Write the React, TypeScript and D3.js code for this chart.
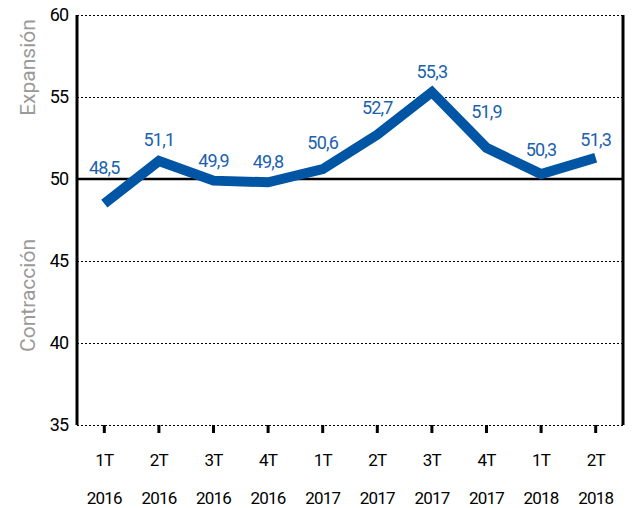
import React, { useEffect, useRef } from "react";
import * as d3 from "d3";

const quarters = ["1T", "2T", "3T", "4T", "1T", "2T", "3T", "4T", "1T", "2T"];
const years = ["2016", "2016", "2016", "2016", "2017", "2017", "2017", "2017", "2018", "2018"];
const values = [48.5, 51.1, 49.9, 49.8, 50.6, 52.7, 55.3, 51.9, 50.3, 51.3];
const yTicks = [35, 40, 45, 50, 55, 60];
// how far each value label sits above its point
const labelLift = [30, 15, 14, 14, 20, 21, 14, 30, 18, 12];

const W = 632;
const H = 508;
const FONT = "Roboto, 'Noto Sans', sans-serif";

const App = () => {
  const ref = useRef<SVGSVGElement>(null);

  useEffect(() => {
    const svg = d3.select(ref.current);
    svg.selectAll("*").remove();

    const left = 77, right = 623, top = 15, bottom = 425;
    const idx = values.map((_, i) => i);

    const x = d3.scaleBand<number>().domain(idx).range([left, right]);
    const cx = (i: number) => (x(i) as number) + x.bandwidth() / 2;
    const y = d3.scaleLinear().domain([35, 60]).range([bottom, top]);

    // grid
    svg.append("g")
      .selectAll("line")
      .data(yTicks.filter((t) => t !== 50))
      .join("line")
      .attr("x1", left)
      .attr("x2", right)
      .attr("y1", (d) => y(d) + 0.5)
      .attr("y2", (d) => y(d) + 0.5)
      .attr("stroke", "#000")
      .attr("stroke-width", 1.2)
      .attr("stroke-dasharray", "2,2");

    // 50 line
    svg.append("line")
      .attr("x1", left).attr("x2", right)
      .attr("y1", y(50)).attr("y2", y(50))
      .attr("stroke", "#000").attr("stroke-width", 2.5);

    // side axes
    [left, right].forEach((xx) => {
      svg.append("line")
        .attr("x1", xx).attr("x2", xx)
        .attr("y1", top).attr("y2", bottom)
        .attr("stroke", "#000").attr("stroke-width", 3);
    });

    // y tick labels
    svg.append("g")
      .selectAll("text")
      .data(yTicks)
      .join("text")
      .attr("x", 68)
      .attr("y", (d) => y(d))
      .attr("dy", "0.36em")
      .attr("text-anchor", "end")
      .attr("font-family", FONT)
      .attr("font-size", 18)
      .attr("letter-spacing", -1)
      .attr("fill", "#000")
      .text((d) => d);

    // x ticks
    svg.append("g")
      .selectAll("line")
      .data(idx)
      .join("line")
      .attr("x1", (d) => cx(d))
      .attr("x2", (d) => cx(d))
      .attr("y1", bottom)
      .attr("y2", bottom + 8)
      .attr("stroke", "#000")
      .attr("stroke-width", 3);

    const xl = svg.append("g")
      .attr("font-family", FONT)
      .attr("font-size", 17)
      .attr("letter-spacing", -0.8)
      .attr("text-anchor", "middle")
      .attr("fill", "#000");
    xl.selectAll("text.q")
      .data(idx)
      .join("text")
      .attr("class", "q")
      .attr("x", (d) => cx(d))
      .attr("y", 466)
      .text((d) => quarters[d]);
    xl.selectAll("text.yr")
      .data(idx)
      .join("text")
      .attr("class", "yr")
      .attr("x", (d) => cx(d))
      .attr("y", 504)
      .text((d) => years[d]);

    // side titles
    const titles = [
      { t: "Expansión", v: 56.8 },
      { t: "Contracción", v: 42.9 },
    ];
    svg.append("g")
      .selectAll("text")
      .data(titles)
      .join("text")
      .attr("transform", (d) => `translate(35,${y(d.v)}) rotate(-90)`)
      .attr("text-anchor", "middle")
      .attr("font-family", FONT)
      .attr("font-size", 21)
      .attr("fill", "#9a9a9a")
      .text((d) => d.t);

    // series line
    const line = d3.line<number>()
      .x((d, i) => cx(i))
      .y((d) => y(d));
    svg.append("path")
      .datum(values)
      .attr("d", line)
      .attr("fill", "none")
      .attr("stroke", "#0055a5")
      .attr("stroke-width", 10)
      .attr("stroke-linejoin", "miter");

    // value labels
    svg.append("g")
      .selectAll("text")
      .data(values)
      .join("text")
      .attr("x", (d, i) => cx(i))
      .attr("y", (d, i) => y(d) - labelLift[i])
      .attr("text-anchor", "middle")
      .attr("font-family", FONT)
      .attr("font-size", 18)
      .attr("letter-spacing", -0.8)
      .attr("fill", "#1a62ae")
      .text((d) => d.toFixed(1).replace(".", ","));
  }, []);

  return <svg ref={ref} width={W} height={H} style={{ display: "block", position: "absolute", left: 0, top: 0 }} />;
};

export default App;
